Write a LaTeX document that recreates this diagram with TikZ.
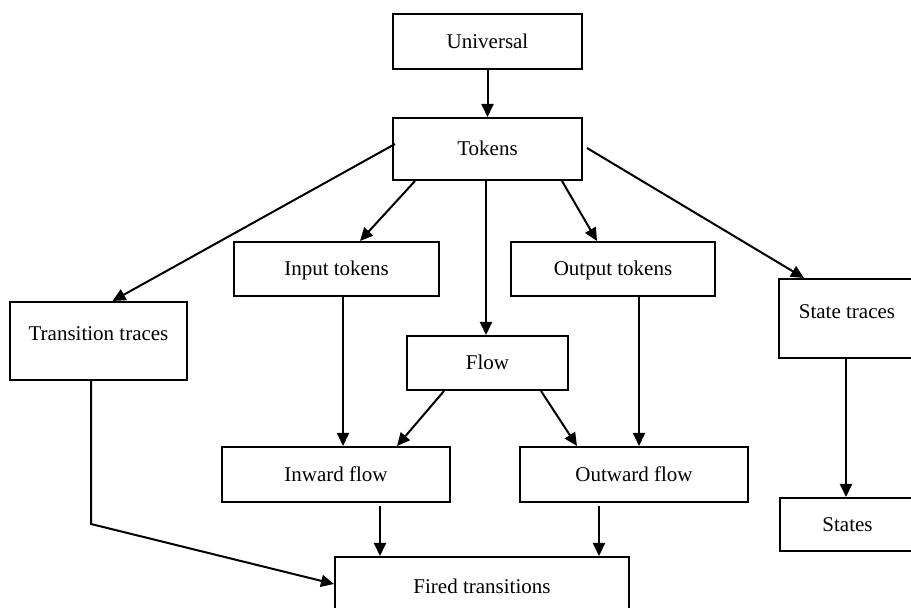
\documentclass[tikz,border=0pt]{standalone}
\usepackage{fontspec}
\setmainfont{Liberation Serif}
\usetikzlibrary{arrows.meta}

\begin{document}
\begin{tikzpicture} [x=0.5pt, y=-0.5pt,
  box/.style={draw, line width=1pt, inner sep=0pt, text height=7pt, text depth=0pt, font=\fontsize{10.5}{12}\selectfont},
  arr/.style={line width=1pt, -{Triangle[length=6.5pt,width=6pt]}}]
 \useasboundingbox (0,0) rectangle (911,608);
 \node [box, minimum width=94.5pt, minimum height=27.5pt] (univ) at (487.5,41.5) {Universal};
 \node [box, minimum width=94.5pt, minimum height=31pt] (tokens) at (487.5,149) {Tokens};
 \node [box, minimum width=88.5pt, minimum height=39pt, text depth=7pt] (transtr) at (98.5,341) {Transition traces};
 \node [box, minimum width=102.5pt, minimum height=27pt] (input) at (336.5,269) {Input tokens};
 \node [box, minimum width=102pt, minimum height=27pt] (output) at (613,269) {Output tokens};
 \node [box, minimum width=68pt, minimum height=39.5pt, text depth=6.5pt] (statetr) at (847,318.5) {State traces};
 \node [box, minimum width=67.5pt, minimum height=26.5pt] (states) at (847.5,524.5) {States};
 \node [box, minimum width=80.5pt, minimum height=27pt] (flow) at (487.5,363) {Flow};
 \node [box, minimum width=114pt, minimum height=27.5pt] (inward) at (336,474.5) {Inward flow};
 \node [box, minimum width=114pt, minimum height=27.5pt] (outward) at (634,474.5) {Outward flow};
 \node [box, minimum width=147pt, minimum height=41.5pt, text depth=11.5pt] (fired) at (482,598.5) {Fired transitions};
 \draw [arr] (univ.south) -- (tokens.north);
 \draw [arr] ([shift={(3,-5)}]tokens.west) -- ([shift={(14,0)}]transtr.north);
 \draw [arr] ([shift={(23,0)}]tokens.south west) -- ([shift={(23.5,0)}]input.north);
 \draw [arr] ([shift={(-1.5,0)}]tokens.south) -- ([shift={(-1.5,0)}]flow.north);
 \draw [arr] ([shift={(-21,0)}]tokens.south east) -- ([shift={(-16,0)}]output.north);
 \draw [arr] ([shift={(4,-1)}]tokens.east) -- ([shift={(26,0)}]statetr.north west);
 \draw [arr] ([shift={(6.5,0)}]input.south) -- ([shift={(6.5,0)}]input.south |- inward.north);
 \draw [arr] ([shift={(26,0)}]output.south) -- ([shift={(26,0)}]output.south |- outward.north);
 \draw [arr] ([shift={(38,0)}]flow.south west) -- ([shift={(61,0)}]inward.north);
 \draw [arr] ([shift={(-28,0)}]flow.south east) -- ([shift={(58,0)}]outward.north west);
 \draw [arr] ([shift={(44,3)}]inward.south) -- ([shift={(44,0)}]inward.south |- fired.north);
 \draw [arr] ([shift={(-35,3)}]outward.south) -- ([shift={(-35,0)}]outward.south |- fired.north);
 \draw [arr] ([shift={(-7.5,0)}]transtr.south) -- ++(0,143) -- ([shift={(0,28)}]fired.north west);
 \draw [arr] ([shift={(-1,0)}]statetr.south) -- ([shift={(-1,0)}]statetr.south |- states.north);
\end{tikzpicture}
\end{document}
